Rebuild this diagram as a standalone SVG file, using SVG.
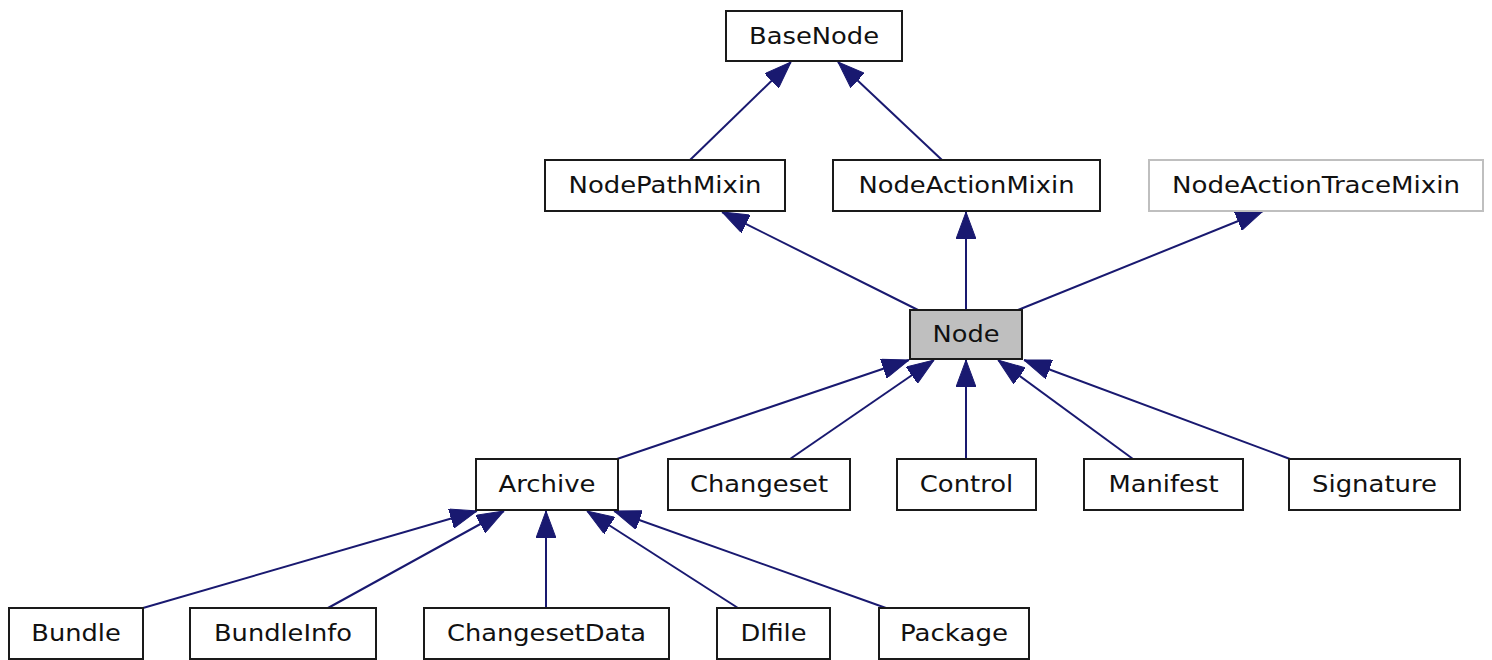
<svg xmlns="http://www.w3.org/2000/svg" width="1492" height="660" viewBox="0 0 1492 660">
<style>
.box{fill:#ffffff;stroke:#1a1a1a;stroke-width:2}
.gray{fill:#bfbfbf}
.light{stroke:#bfbfbf}
.lbl{font-family:"DejaVu Sans",sans-serif;font-size:23.5px;fill:#111111;text-anchor:middle}
.edge{fill:none;stroke:#191970;stroke-width:2;marker-end:url(#arr)}
</style>
<defs>
<marker id="arr" viewBox="0 0 27 20" refX="27" refY="10" markerWidth="27" markerHeight="20" markerUnits="userSpaceOnUse" orient="auto">
<path d="M0,0 L27,10 L0,20 z" fill="#191970" stroke="#191970" stroke-width="1"/>
</marker>
</defs>
<rect width="1492" height="660" fill="#ffffff"/>
<g id="connectors">
<path class="edge" d="M690,160 L791,62"/>
<path class="edge" d="M942,160 L838,62"/>
<path class="edge" d="M918,310 L722,212"/>
<path class="edge" d="M966,310 L966,212"/>
<path class="edge" d="M1018,310 L1263,211"/>
<path class="edge" d="M617,459 L909,360"/>
<path class="edge" d="M790,459 L934,360"/>
<path class="edge" d="M966,459 L966,360"/>
<path class="edge" d="M1133,459 L998,360"/>
<path class="edge" d="M1290,459 L1024,360"/>
<path class="edge" d="M143,608 L477,511"/>
<path class="edge" d="M328,608 L504,511"/>
<path class="edge" d="M546,608 L546,511"/>
<path class="edge" d="M738,608 L587,511"/>
<path class="edge" d="M886,608 L614,511"/>
</g>
<g id="BaseNode"><rect class="box" x="726" y="11" width="176" height="50"/><text class="lbl" x="814" y="44" textLength="130" lengthAdjust="spacingAndGlyphs">BaseNode</text></g>
<g id="NodePathMixin"><rect class="box" x="545" y="160" width="240" height="51"/><text class="lbl" x="665" y="193" textLength="193" lengthAdjust="spacingAndGlyphs">NodePathMixin</text></g>
<g id="NodeActionMixin"><rect class="box" x="833" y="160" width="267" height="51"/><text class="lbl" x="966.5" y="193" textLength="216" lengthAdjust="spacingAndGlyphs">NodeActionMixin</text></g>
<g id="NodeActionTraceMixin"><rect class="box light" x="1149" y="160" width="334" height="51"/><text class="lbl" x="1316" y="193" textLength="288" lengthAdjust="spacingAndGlyphs">NodeActionTraceMixin</text></g>
<g id="Node"><rect class="box gray" x="910" y="310" width="112" height="49"/><text class="lbl" x="966" y="342" textLength="67" lengthAdjust="spacingAndGlyphs">Node</text></g>
<g id="Archive"><rect class="box" x="476" y="459" width="142" height="51"/><text class="lbl" x="547" y="492" textLength="97" lengthAdjust="spacingAndGlyphs">Archive</text></g>
<g id="Changeset"><rect class="box" x="668" y="459" width="182" height="51"/><text class="lbl" x="759" y="492" textLength="138" lengthAdjust="spacingAndGlyphs">Changeset</text></g>
<g id="Control"><rect class="box" x="897" y="459" width="139" height="51"/><text class="lbl" x="966.5" y="492" textLength="93.5" lengthAdjust="spacingAndGlyphs">Control</text></g>
<g id="Manifest"><rect class="box" x="1084" y="459" width="159" height="51"/><text class="lbl" x="1163.5" y="492" textLength="110" lengthAdjust="spacingAndGlyphs">Manifest</text></g>
<g id="Signature"><rect class="box" x="1289" y="459" width="171" height="51"/><text class="lbl" x="1374.5" y="492" textLength="125" lengthAdjust="spacingAndGlyphs">Signature</text></g>
<g id="Bundle"><rect class="box" x="9" y="608" width="134" height="51"/><text class="lbl" x="76" y="641" textLength="89.5" lengthAdjust="spacingAndGlyphs">Bundle</text></g>
<g id="BundleInfo"><rect class="box" x="190" y="608" width="186" height="51"/><text class="lbl" x="283" y="641" textLength="138" lengthAdjust="spacingAndGlyphs">BundleInfo</text></g>
<g id="ChangesetData"><rect class="box" x="424" y="608" width="245" height="51"/><text class="lbl" x="546.5" y="641" textLength="199" lengthAdjust="spacingAndGlyphs">ChangesetData</text></g>
<g id="Dlfile"><rect class="box" x="717" y="608" width="113" height="51"/><text class="lbl" x="773.5" y="641" textLength="66" lengthAdjust="spacingAndGlyphs">Dlfile</text></g>
<g id="Package"><rect class="box" x="879" y="608" width="150" height="51"/><text class="lbl" x="954" y="641" textLength="108" lengthAdjust="spacingAndGlyphs">Package</text></g>
</svg>
